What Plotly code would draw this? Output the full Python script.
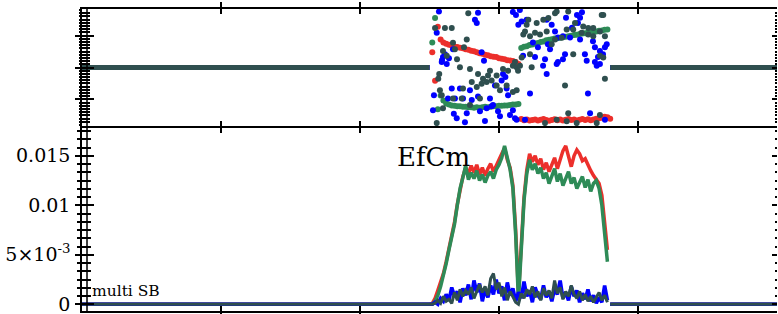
import plotly.graph_objects as go

# ---------------- data ----------------
x_ticks = [0, 100, 200, 300, 400, 500]
band_x = list(range(252, 380, 2))          # sample positions inside the active band
base_left_x = [0, 250]
base_right_x = [380, 500]
base_y = [0, 0]

# bottom panel: |EfCm| amplitude per series
amp_red = [0.0001, 0.0006, 0.0014, 0.0022, 0.0031, 0.0043, 0.0056, 0.0070, 0.0083, 0.0101,
           0.0116, 0.0129, 0.0138, 0.0132, 0.0140, 0.0133, 0.0141, 0.0131, 0.0138, 0.0130,
           0.0137, 0.0142, 0.0134, 0.0141, 0.0146, 0.0152, 0.0158, 0.0146, 0.0138, 0.0120,
           0.0075, 0.0010, 0.0064, 0.0108, 0.0136, 0.0152, 0.0144, 0.0150, 0.0141, 0.0147,
           0.0136, 0.0143, 0.0134, 0.0142, 0.0148, 0.0137, 0.0145, 0.0155, 0.0160, 0.0148,
           0.0139, 0.0150, 0.0156, 0.0152, 0.0145, 0.0147, 0.0140, 0.0135, 0.0130, 0.0126,
           0.0122, 0.0110, 0.0085, 0.0055]
amp_green = [0.0000, 0.0003, 0.0009, 0.0018, 0.0029, 0.0041, 0.0055, 0.0069, 0.0081, 0.0100,
             0.0117, 0.0128, 0.0140, 0.0126, 0.0133, 0.0127, 0.0135, 0.0125, 0.0131, 0.0123,
             0.0130, 0.0134, 0.0127, 0.0136, 0.0141, 0.0148, 0.0160, 0.0148, 0.0136, 0.0117,
             0.0070, 0.0004, 0.0060, 0.0105, 0.0132, 0.0146, 0.0136, 0.0142, 0.0132, 0.0138,
             0.0127, 0.0133, 0.0122, 0.0129, 0.0137, 0.0124, 0.0132, 0.0120, 0.0128, 0.0134,
             0.0122, 0.0128, 0.0117, 0.0124, 0.0129, 0.0118, 0.0126, 0.0114, 0.0122, 0.0125,
             0.0117, 0.0100, 0.0073, 0.0043]
amp_blue = [0.0000, 0.0002, 0.0000, 0.0006, 0.0003, 0.0010, 0.0004, 0.0017, 0.0008, 0.0013,
            0.0002, 0.0016, 0.0009, 0.0020, 0.0005, 0.0024, 0.0012, 0.0021, 0.0003, 0.0015,
            0.0007, 0.0019, 0.0010, 0.0025, 0.0011, 0.0018, 0.0004, 0.0022, 0.0009, 0.0016,
            0.0003, 0.0012, 0.0006, 0.0023, 0.0008, 0.0014, 0.0002, 0.0017, 0.0009, 0.0005,
            0.0019, 0.0007, 0.0013, 0.0003, 0.0016, 0.0010, 0.0024, 0.0006, 0.0012, 0.0004,
            0.0018, 0.0008, 0.0014, 0.0002, 0.0011, 0.0005, 0.0015, 0.0003, 0.0009, 0.0001,
            0.0007, 0.0002, 0.0019, 0.0004]
amp_slate = [0.0000, 0.0001, 0.0004, 0.0001, 0.0008, 0.0003, 0.0005, 0.0001, 0.0012, 0.0004,
             0.0015, 0.0008, 0.0014, 0.0010, 0.0017, 0.0006, 0.0013, 0.0020, 0.0012, 0.0018,
             0.0009, 0.0026, 0.0031, 0.0015, 0.0022, 0.0008, 0.0017, 0.0004, 0.0013, 0.0007,
             0.0002, 0.0000, 0.0011, 0.0006, 0.0015, 0.0010, 0.0018, 0.0007, 0.0013, 0.0004,
             0.0016, 0.0009, 0.0014, 0.0006, 0.0024, 0.0011, 0.0017, 0.0005, 0.0013, 0.0008,
             0.0019, 0.0010, 0.0006, 0.0013, 0.0004, 0.0010, 0.0003, 0.0008, 0.0002, 0.0007,
             0.0012, 0.0004, 0.0009, 0.0002]

# top panel: phase per series
ph_red_x = list(range(252, 382, 2))
ph_red = [0.95, -0.83, 2.55, 1.75, 1.57, 1.48, 1.42, 1.38, 1.32, 1.29,
          1.23, 1.20, 1.14, 1.11, 1.05, 1.02, 0.95, 0.89, 0.86, 0.80,
          0.77, 0.71, 0.68, 0.65, 0.58, 0.55, 0.52, 0.46, 0.43, 0.40,
          0.34, 0.22,
          -3.22, -3.30, -3.26, -3.32, -3.28, -3.25, -3.31, -3.27, -3.23, -3.29,
          -3.33, -3.28, -3.24, -3.30, -3.26, -3.32, -3.27, -3.22, -3.29, -3.25,
          -3.31, -3.27, -3.23, -3.28, -3.24, -3.30, -3.26, -3.21, -3.18, -3.14,
          -3.08, -3.12, -3.20]
ph_green_x = list(range(252, 380, 2))
ph_green = [1.57, 3.10, -2.62, -1.75, -2.06, -2.25, -2.31, -2.37, -2.40, -2.43,
            -2.43, -2.46, -2.46, -2.49, -2.49, -2.52, -2.49, -2.52, -2.49, -2.46,
            -2.49, -2.46, -2.43, -2.43, -2.40, -2.40, -2.37, -2.37, -2.34, -2.31,
            -2.31, -2.28,
            1.22, 1.30, 1.33, 1.40, 1.44, 1.50, 1.53, 1.60, 1.63, 1.70,
            1.74, 1.76, 1.81, 1.83, 1.86, 1.89, 1.92, 1.96, 1.98, 2.04,
            2.05, 2.09, 2.12, 2.14, 2.18, 2.20, 2.24, 2.26, 2.30, 2.31,
            2.36, 2.37]
ph_blue_x = [256.8, 282.7, 284.0, 284.9, 310.0, 312.2, 315.0, 255.2, 259.7, 258.8,
             261.1, 264.0, 266.9, 287.5, 253.2, 266.0, 271.9, 279.1, 268.3, 274.1,
             280.4, 293.5, 295.7, 291.1, 299.3, 286.3, 276.8, 269.6, 275.5, 289.9,
             300.7, 307.9, 301.9, 305.5, 306.5, 302.9, 311.5, 252.5, 267.5, 263.3,
             297.1, 304.6, 310.0, 312.7, 294.7, 284.9, 262.4, 259.0, 289.2,
             313.9, 316.3, 319.9, 334.3, 337.9, 340.3, 356.1, 358.3, 359.7, 356.8,
             324.4, 328.0, 335.2, 336.7, 342.4, 346.0, 351.1, 358.3, 367.6, 369.0,
             372.6, 376.2, 377.5, 374.8, 371.2, 369.0, 370.3, 372.6, 361.8, 347.5,
             346.0, 342.4, 341.5, 333.1, 331.7, 334.3, 325.9, 317.3, 363.1, 322.3,
             364.0, 365.5, 318.7, 376.2, 348.2, 352.5]
ph_blue = [3.50, 2.98, 2.78, 3.43, 3.48, 3.29, 3.60, 2.18, 0.65, 0.34,
           0.83, 0.58, 1.14, 0.95, -1.74, -1.32, -1.32, -1.43, -1.94, -1.94,
           -2.04, -1.94, -2.35, -2.55, -2.74, -2.74, -2.86, -3.17, -3.42, -3.35,
           -3.05, -2.97, -0.81, -1.32, -1.74, -0.40, -3.17, -2.68, -2.90, -1.94,
           -1.12, -0.60, -2.68, -3.27, -2.43, -1.82, 0.22, 0.46, 0.42,
           2.68, 2.88, 2.98, 2.98, 2.68, 2.26, 3.29, 3.11, 3.46, 2.78,
           1.57, 1.26, 1.45, 1.14, 1.88, 1.96, 1.88, 1.75, 1.65, 1.26,
           1.03, 1.26, 1.45, 0.83, 0.65, 0.34, 0.11, 0.22, 0.83, 0.83,
           0.52, 0.34, 0.22, 0.52, 0.11, -0.40, 0.65, 0.73, 0.42, -1.63,
           -1.63, -2.86, -3.27, -3.27, 3.11, 2.49]
ph_slate_x = [254.0, 261.1, 266.0, 259.7, 262.4, 266.9, 268.3, 276.8, 277.9, 271.9,
              284.9, 288.5, 292.1, 293.5, 298.3, 302.9, 306.5, 310.0, 311.5, 312.7,
              313.7, 257.5, 258.8, 266.9, 274.1, 280.4, 284.0, 287.5, 291.1, 294.7,
              298.3, 300.7, 305.5, 310.0, 273.2, 279.1, 286.3, 255.2, 259.7, 257.0,
              256.3, 269.8, 274.8, 279.1,
              321.1, 319.9, 318.7, 317.5, 322.3, 325.9, 329.5, 334.3, 327.1, 331.9,
              335.5, 340.3, 341.5, 349.8, 354.7, 348.7, 353.4, 360.6, 364.2, 367.8,
              372.6, 373.9, 367.8, 376.2, 364.2, 359.5, 345.1, 340.3, 337.9, 353.4,
              322.3, 316.3, 315.1, 323.5, 372.6, 375.0, 376.2, 347.5, 312.7, 349.8,
              333.1, 348.7, 355.9, 372.6, 370.3, 341.5, 375.0]
ph_slate = [2.47, 2.47, 2.47, 1.03, 0.73, 1.55, 1.14, 1.75, 3.40, 0.01,
            -0.40, -0.71, -0.50, -0.20, -0.50, -0.09, -0.20, 0.11, 0.34, 0.01,
            -0.20, -1.43, -1.74, -1.94, -1.32, -0.91, -1.22, -1.02, -0.91, -0.81,
            -1.12, -1.43, -1.12, -1.53, -1.94, -2.35, -1.94, -3.48, -2.55, -0.40,
            -0.71, 0.52, 1.26, -0.09,
            2.98, 2.68, 2.26, 2.06, 1.96, 2.17, 2.06, 2.26, 2.78, 2.98,
            3.09, 3.40, 3.50, 3.50, 2.78, 2.37, 2.37, 2.57, 2.47, 2.47,
            2.26, 3.29, 1.96, 1.96, 2.06, 2.17, 1.86, 1.75, 1.45, 0.83,
            0.83, 0.63, 0.11, 0.01, 0.73, 0.63, -0.71, -1.12, -1.43, -2.86,
            -3.48, -3.37, -3.48, -2.97, -3.48, -3.27, 3.29]

amp_tick_step = 0.005
amp_label_alias = {"0.005": "5×10<sup>-3</sup>"}
ph_tickvals = [-2, 0, 2]

# ---------------- style ----------------
RED = "#ec2f2b"
GREEN = "#2e8b57"
BLUE = "#0000ff"
SLATE = "#2f4f4f"
SERIF = "DejaVu Serif"
AMP_RANGE = [-0.00068, 0.01781]
PH_RANGE = [-3.66, 3.66]
BOTTOM_DOMAIN = [0, 0.606]
TOP_DOMAIN = [0.6126, 1]

fig = go.Figure()

series = [(amp_red, ph_red_x, ph_red, RED, 3.5),
          (amp_green, ph_green_x, ph_green, GREEN, 3.5),
          (amp_blue, ph_blue_x, ph_blue, BLUE, 3.6),
          (amp_slate, ph_slate_x, ph_slate, SLATE, 3)]

for amp, px_, ph, col, w in series:
    fig.add_trace(go.Scatter(
        x=base_left_x + band_x + [None] + base_right_x,
        y=base_y + amp + [None] + base_y,
        mode="lines", line=dict(color=col, width=w),
        xaxis="x", yaxis="y", hoverinfo="skip"))

for amp, px_, ph, col, w in series:
    fig.add_trace(go.Scatter(
        x=base_left_x + [None] + base_right_x,
        y=base_y + [None] + base_y,
        mode="lines", line=dict(color=col, width=5),
        xaxis="x2", yaxis="y2", hoverinfo="skip"))
    fig.add_trace(go.Scatter(
        x=px_, y=ph, mode="markers",
        marker=dict(color=col, size=6, line=dict(width=0)),
        xaxis="x2", yaxis="y2", hoverinfo="skip"))

# empty traces so the overlay (tick-only) axes get drawn
for ya, xa in [("y3", "x"), ("y5", "x"), ("y4", "x2"), ("y6", "x2")]:
    fig.add_trace(go.Scatter(x=[None], y=[None], xaxis=xa, yaxis=ya,
                             mode="markers", hoverinfo="skip"))

xcommon = dict(range=[0, 500], tickvals=x_ticks, ticks="inside", ticklen=5,
               tickwidth=1.5, tickcolor="black", showticklabels=False,
               showline=True, linewidth=2, linecolor="black", mirror="allticks",
               showgrid=False, zeroline=False, automargin=False)


def tick_spec(rng, major, minor_dtick, tl, mtl, ticks):
    d = dict(range=rng, ticks=ticks, ticklen=tl, tickwidth=1.5, tickcolor="black",
             minor=dict(tickmode="linear", tick0=0, dtick=minor_dtick,
                        ticks=ticks, ticklen=mtl, tickwidth=1.5,
                        tickcolor="black", showgrid=False),
             showgrid=False, zeroline=False, automargin=False)
    if isinstance(major, list):
        d["tickvals"] = major
    else:
        d["tickmode"] = "linear"
        d["tick0"] = 0
        d["dtick"] = major
    return d


# bottom panel: labelled axis (outside ticks) + inside-ticks overlays left and right
yaxis = dict(domain=BOTTOM_DOMAIN, showline=True, linewidth=1.5, linecolor="black",
             labelalias=amp_label_alias, ticklabelstandoff=1,
             ticklabeloverflow="allow",
             tickfont=dict(family=SERIF, size=19, color="black"),
             **tick_spec(AMP_RANGE, amp_tick_step, amp_tick_step / 6, 5, 3, "outside"))
yaxis3 = dict(overlaying="y", anchor="x", side="left", showticklabels=False, showline=False,
              **tick_spec(AMP_RANGE, amp_tick_step, amp_tick_step / 6, 12, 9, "inside"))
yaxis5 = dict(overlaying="y", anchor="x", side="right", showticklabels=False, showline=False,
              **tick_spec(AMP_RANGE, amp_tick_step, amp_tick_step / 6, 5, 2, "inside"))
# top panel
yaxis2 = dict(domain=TOP_DOMAIN, showline=True, linewidth=1.5, linecolor="black",
              showticklabels=False,
              **tick_spec(PH_RANGE, ph_tickvals, 0.2, 5, 1, "outside"))
yaxis4 = dict(overlaying="y2", anchor="x2", side="left", showticklabels=False, showline=False,
              **tick_spec(PH_RANGE, ph_tickvals, 0.2, 12, 8, "inside"))
yaxis6 = dict(overlaying="y2", anchor="x2", side="right", showticklabels=False, showline=False,
              **tick_spec(PH_RANGE, ph_tickvals, 0.2, 5, 2, "inside"))

fig.update_layout(
    template="none",
    width=778, height=314,
    margin=dict(l=82, r=1, t=9, b=3, pad=0, autoexpand=False),
    paper_bgcolor="white", plot_bgcolor="white", showlegend=False,
    font=dict(family=SERIF, size=18, color="black"),
    xaxis=dict(anchor="y", domain=[0, 1], **xcommon),
    xaxis2=dict(anchor="y2", domain=[0, 1], matches="x", **xcommon),
    yaxis=yaxis, yaxis2=yaxis2, yaxis3=yaxis3, yaxis4=yaxis4,
    yaxis5=yaxis5, yaxis6=yaxis6,
    shapes=[dict(type="line", xref="paper", yref="paper", x0=5 / 695, x1=5 / 695,
                 y0=0, y1=1, line=dict(color="black", width=1.5), layer="above")],
    annotations=[
        dict(text="EfCm", x=225.5, y=0.0149, xref="x", yref="y",
             xanchor="left", yanchor="middle", showarrow=False,
             font=dict(family=SERIF, size=26, color="black")),
        dict(text="multi SB", x=5.5, y=0.00134, xref="x", yref="y",
             xanchor="left", yanchor="middle", showarrow=False,
             font=dict(family=SERIF, size=15.5, color="black")),
    ],
)

# the page body has a default 8px margin; remove it so the figure fills the window
fig.write_html("out.html", config={"displayModeBar": False},
               post_script="document.body.style.margin='0px';")
